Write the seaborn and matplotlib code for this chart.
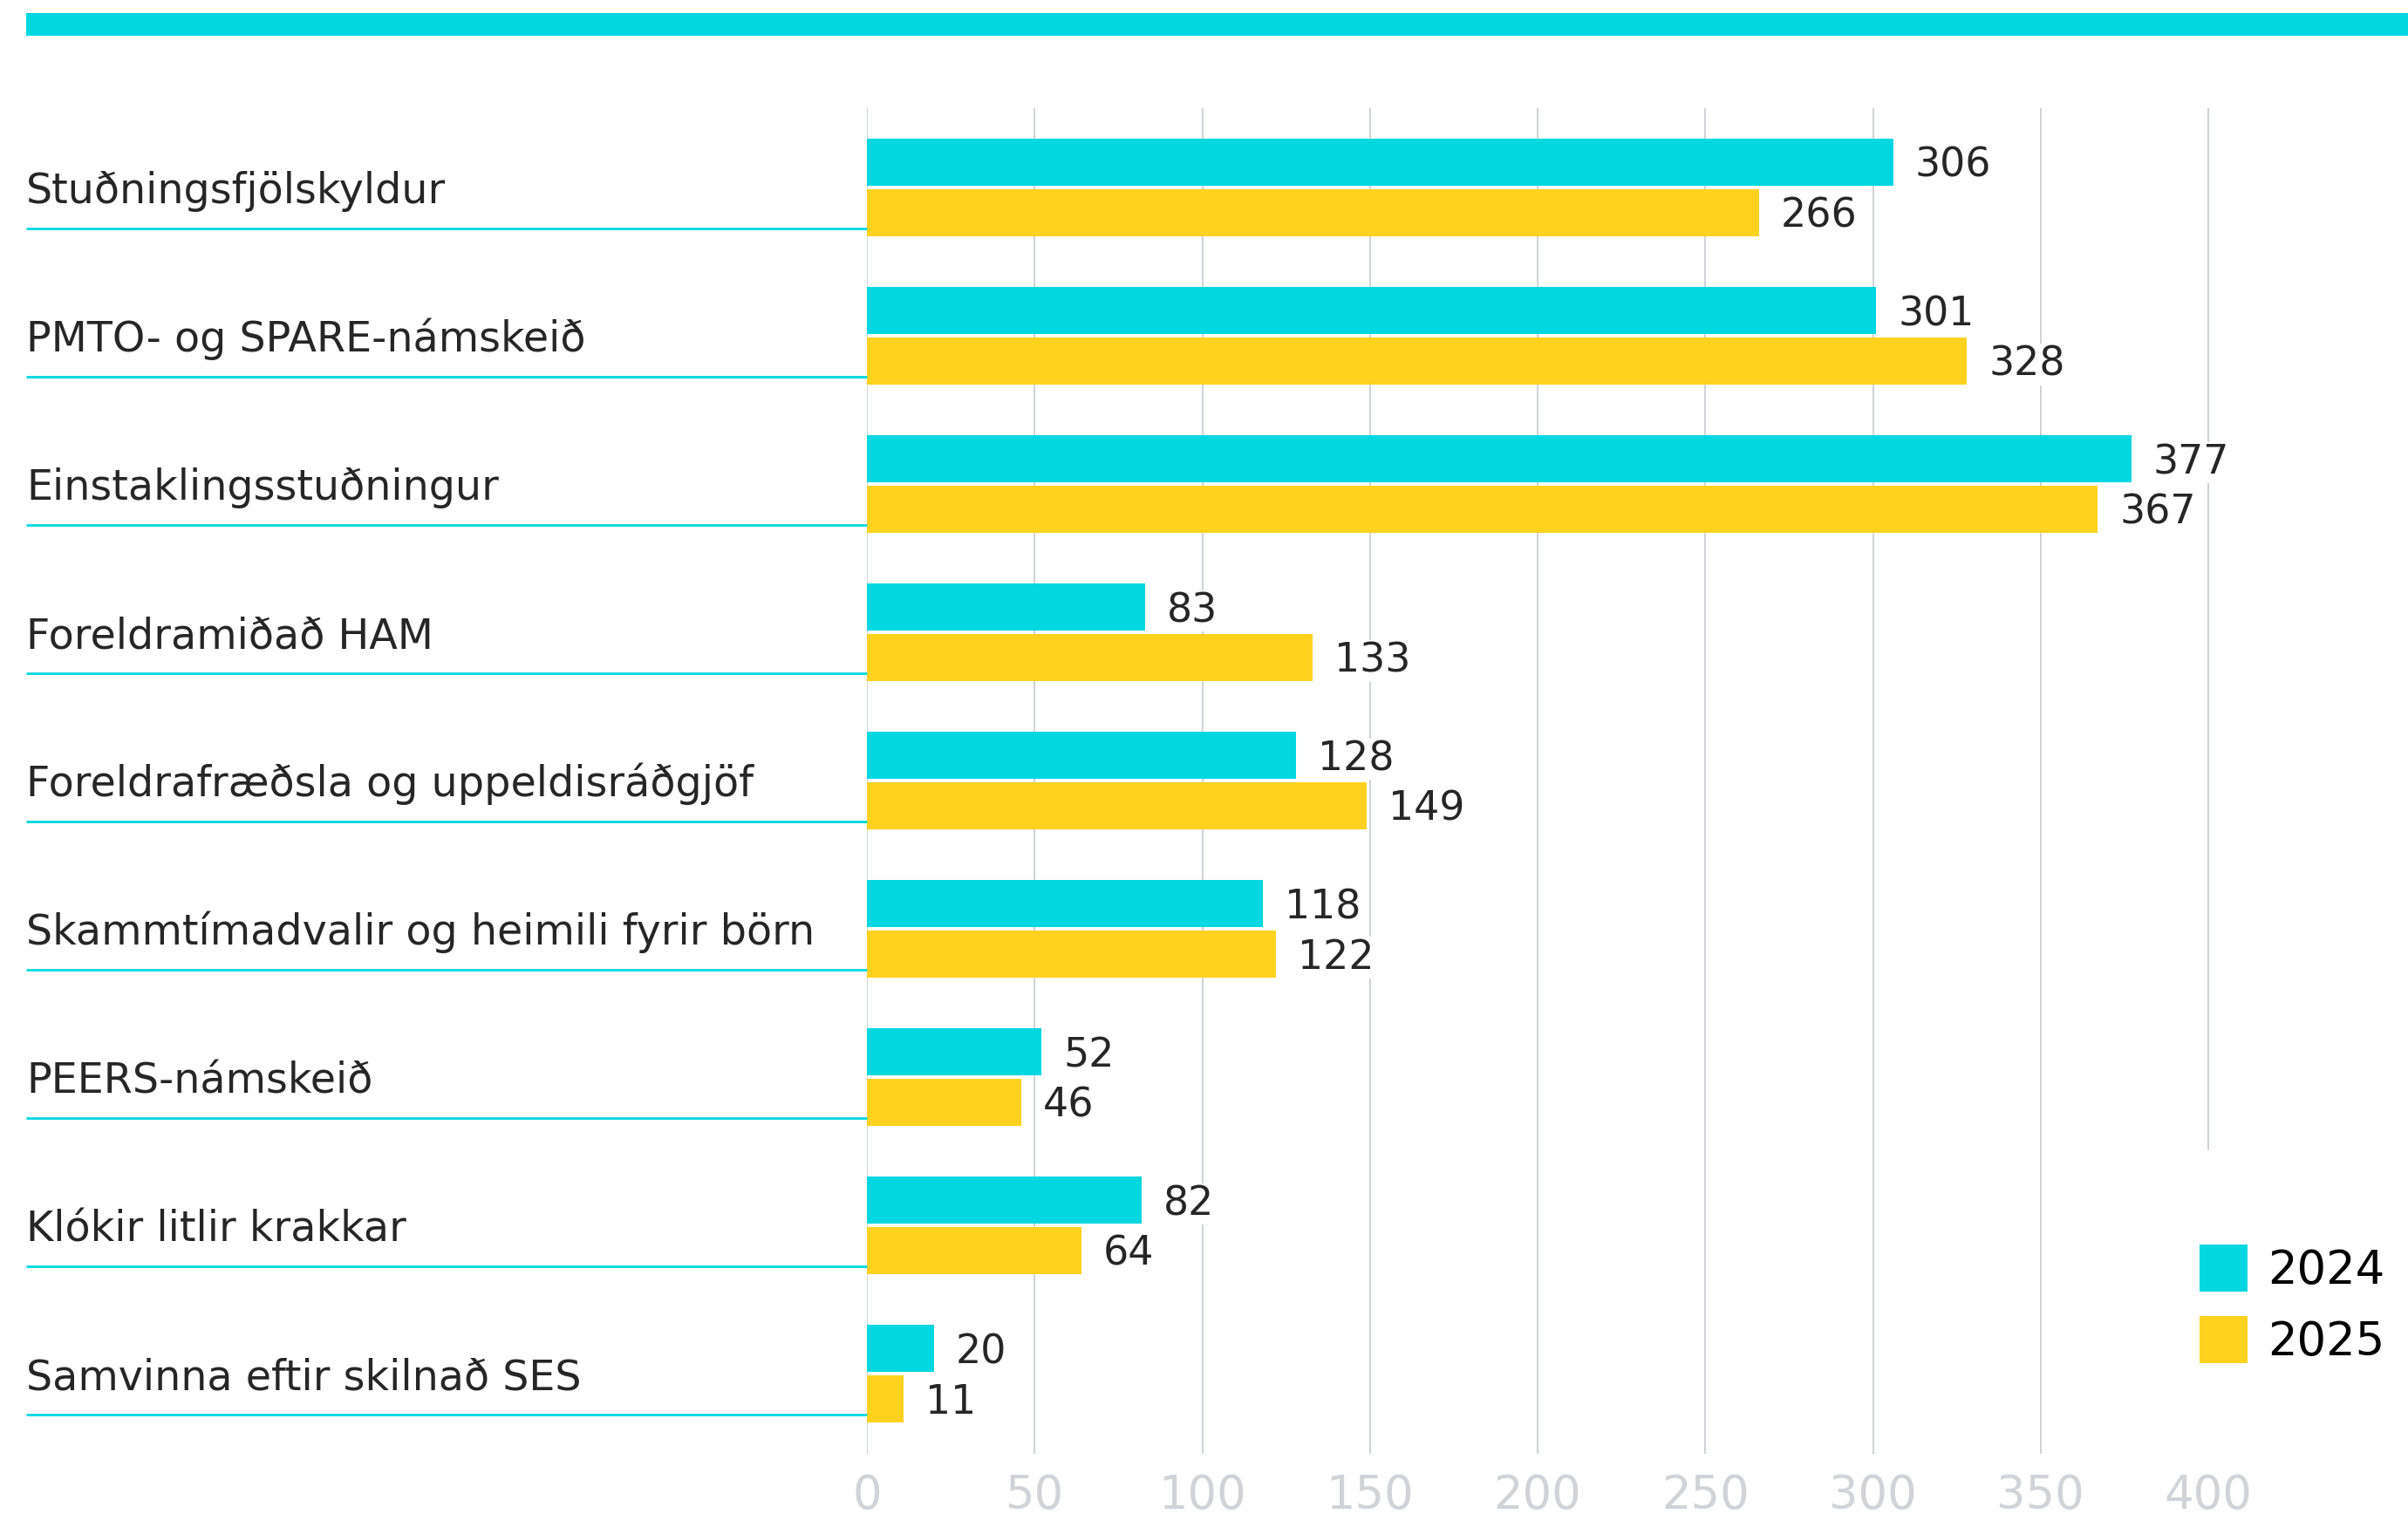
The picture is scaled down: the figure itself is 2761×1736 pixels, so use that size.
import numpy as np
import pandas as pd
import matplotlib.pyplot as plt
import seaborn as sns

from matplotlib.patches import Patch, Rectangle
from matplotlib.transforms import blended_transform_factory


categories = ['Stuðningsfjölskyldur', 'PMTO- og SPARE-námskeið', 'Einstaklingsstuðningur',
              'Foreldramiðað HAM', 'Foreldrafræðsla og uppeldisráðgjöf',
              'Skammtímadvalir og heimili fyrir börn', 'PEERS-námskeið',
              'Klókir litlir krakkar', 'Samvinna eftir skilnað SES']
years = ['2024', '2025']
values_2024 = [306, 301, 377, 83, 128, 118, 52, 82, 20]
values_2025 = [266, 328, 367, 133, 149, 122, 46, 64, 11]
x_ticks = [0, 50, 100, 150, 200, 250, 300, 350, 400]

CYAN = '#00D7E0'
YELLOW = '#FFD21F'
GRID = '#D0D3D8'
TEXT = '#262626'

W, H = 2761, 1736


def plot_chart():

    sns.set_style('white')
    plt.rcParams['font.family'] = ['DejaVu Sans']

    df = pd.DataFrame({
        'flokkur': categories * 2,
        'ar': [years[0]] * len(categories) + [years[1]] * len(categories),
        'fjoldi': values_2024 + values_2025,
    })

    fig = plt.figure(figsize=(W / 100, H / 100), dpi=100)
    ax = fig.add_axes([994 / W, 1 - 1667 / H, (W - 994) / W, (1667 - 124) / H])

    sns.barplot(data=df, y='flokkur', x='fjoldi', hue='ar', orient='h',
                palette=[CYAN, YELLOW], saturation=1, width=0.68, gap=0.07,
                linewidth=0, ax=ax, legend=False)

    ax.set_xlim(0, (W - 994) / 3.845)
    ax.set_ylim(8.541, -0.535)
    ax.set_xticks(x_ticks)
    ax.set_xticklabels([str(t) for t in x_ticks])
    ax.tick_params(axis='x', length=0, pad=16, labelsize=38, labelcolor='#D2D3D8')
    ax.tick_params(axis='y', left=False, labelleft=False)
    ax.set_xlabel('')
    ax.set_ylabel('')
    for s in ax.spines.values():
        s.set_visible(False)
    ax.grid(axis='x', color=GRID, linewidth=1.5)
    ax.grid(axis='y', visible=False)
    ax.set_axisbelow(True)

    # category names on the left with a cyan underline
    trans = blended_transform_factory(fig.transFigure, ax.transData)
    for i, name in enumerate(categories):
        ax.text(30 / W, i + 0.106, name, transform=trans, ha='left', va='baseline',
                fontsize=34.3, color=TEXT)
        ax.plot([30 / W, 994 / W], [i + 0.2765] * 2, transform=trans, color=CYAN,
                linewidth=2.0, solid_capstyle='butt', clip_on=False)

    # value labels
    for cont, vals in zip(ax.containers, [values_2024, values_2025]):
        for bar, v in zip(cont, vals):
            ax.annotate(str(v), xy=(bar.get_width(), bar.get_y() + bar.get_height() / 2),
                        xytext=(18, -12.2), textcoords='offset points',
                        ha='left', va='baseline', fontsize=33, color=TEXT,
                        bbox=dict(facecolor='white', edgecolor='none', pad=1))

    # legend (white box hides the lower part of the 400 gridline, as in the original)
    handles = [Patch(facecolor=c, edgecolor='none', linewidth=0) for c in [CYAN, YELLOW]]
    ax.legend(handles, years, loc='upper left',
              bbox_to_anchor=(2414 / W, 1 - 1319 / H), bbox_transform=fig.transFigure,
              borderaxespad=0, borderpad=2.05, fontsize=38, handlelength=1.03,
              handleheight=1.2, handletextpad=0.45, labelspacing=0.49,
              frameon=True, facecolor='white', edgecolor='none', framealpha=1,
              fancybox=False, labelcolor='black')

    # cyan band at the top
    fig.add_artist(Rectangle((30 / W, 1 - 41.3 / H), 1 - 30 / W, 26.3 / H,
                             transform=fig.transFigure, color=CYAN, linewidth=0))

    fig.savefig('out.png', dpi=100)


if __name__ == '__main__':

    plot_chart()
